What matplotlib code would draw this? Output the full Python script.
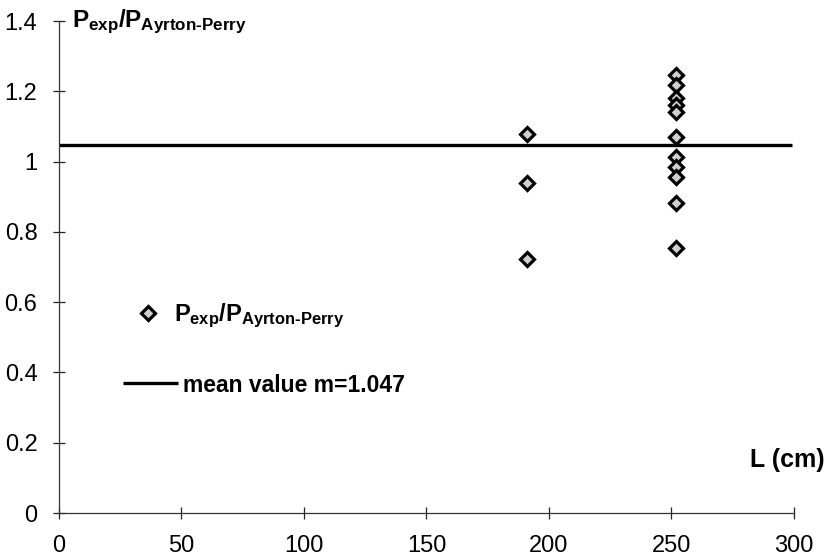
import matplotlib
matplotlib.use('Agg')
import matplotlib.pyplot as plt

plt.rcParams['font.family'] = ['Liberation Sans', 'DejaVu Sans']
plt.rcParams['mathtext.fontset'] = 'custom'
plt.rcParams['mathtext.rm'] = 'Liberation Sans:bold'
plt.rcParams['mathtext.it'] = 'Liberation Sans:bold'
plt.rcParams['mathtext.bf'] = 'Liberation Sans:bold'

# measured ratio P_exp / P_Ayrton-Perry against conductor length
L_cm = [191, 191, 191,
        252, 252, 252, 252, 252, 252, 252, 252, 252, 252, 252]
ratio = [1.079, 0.938, 0.722,
         1.246, 1.218, 1.180, 1.161, 1.140, 1.071, 1.012, 0.984, 0.957, 0.881, 0.755]
mean_val = 1.047

x_ticks = [0, 50, 100, 150, 200, 250, 300]
y_ticks = [0, 0.2, 0.4, 0.6, 0.8, 1.0, 1.2, 1.4]
y_ticklabels = ['0', '0.2', '0.4', '0.6', '0.8', '1', '1.2', '1.4']

ratio_label = r'$P_{exp}/P_{Ayrton\text{-}Perry}$'

fig = plt.figure(figsize=(8.28, 5.55), dpi=100)
ax = fig.add_axes([59/828, 1 - 513/555, (794 - 59)/828, (513 - 21)/555])

mean_line, = ax.plot([0, 299], [mean_val, mean_val], color='black', lw=2.4,
                     solid_capstyle='butt', zorder=2)
pts, = ax.plot(L_cm, ratio, 'D', ms=6.8, mfc='#cfcfcf', mec='black', mew=2.3,
               linestyle='none', zorder=3)

ax.set_xlim(0, 300)
ax.set_ylim(0, 1.4)
ax.set_xticks(x_ticks)
ax.set_yticks(y_ticks)
ax.set_yticklabels(y_ticklabels)
ax.tick_params(axis='both', direction='inout', length=9, width=0.9,
               colors='#222222', labelsize=17, labelcolor='black')
ax.tick_params(axis='x', pad=11)
ax.tick_params(axis='y', pad=11)
for side in ['top', 'right']:
    ax.spines[side].set_visible(False)
for side in ['left', 'bottom']:
    ax.spines[side].set_color('#333333')
    ax.spines[side].set_linewidth(0.9)

fig.text(72/828, 1 - 27/555, ratio_label, fontsize=17.5, va='baseline', ha='left')
fig.text(825/828, 1 - 467/555, 'L (cm)', fontsize=18, fontweight='bold',
         va='baseline', ha='right')

leg1 = ax.legend([pts], [ratio_label], loc='center left',
                 bbox_to_anchor=(139/828, 1 - 316/555), bbox_transform=fig.transFigure,
                 frameon=False, fontsize=17, handlelength=0.8, handletextpad=0.7,
                 borderpad=0, borderaxespad=0)
ax.add_artist(leg1)
ax.legend([mean_line], [f'mean value m={mean_val}'], loc='center left',
          bbox_to_anchor=(123/828, 1 - 385/555), bbox_transform=fig.transFigure,
          frameon=False, prop={'size': 16.5, 'weight': 'bold'}, handlelength=2.4,
          handletextpad=0.22, borderpad=0, borderaxespad=0)

fig.savefig('out.png', dpi=100)
